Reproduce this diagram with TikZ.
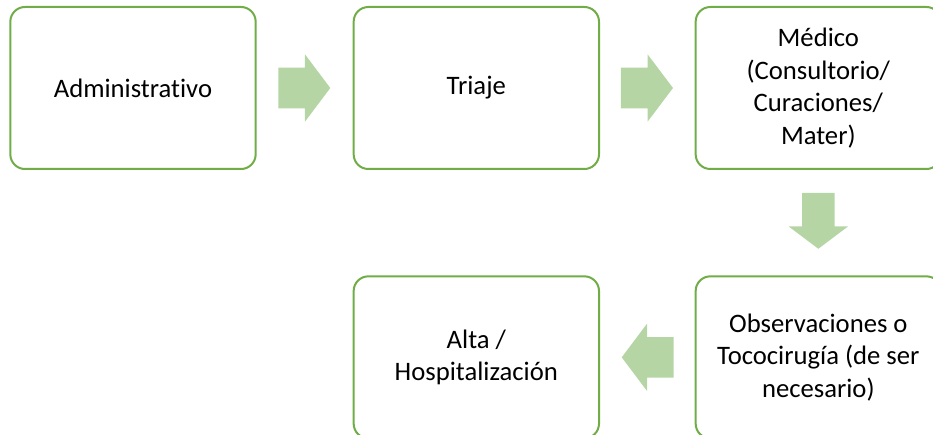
\documentclass[tikz,border=0pt]{standalone}
\usepackage{fontspec}
\setmainfont{Carlito}[Ligatures=NoCommon]
\usetikzlibrary{positioning,shapes.arrows,calc}
\definecolor{verdeborde}{HTML}{70AD47}
\definecolor{verdeflecha}{HTML}{B6D5A5}

\begin{document}
\begin{tikzpicture}[x=0.75pt,y=-0.75pt,
	caja/.style={draw=verdeborde, line width=1.5pt, rounded corners=11pt, fill=white,
		minimum width=184pt, minimum height=121.5pt, inner sep=0pt, align=center,
		font=\fontsize{20}{24.5}\selectfont},
	flecha/.style={single arrow, fill=verdeflecha, draw=none, inner xsep=0pt, inner ysep=15pt,
		minimum height=39pt, single arrow head extend=10pt,
		single arrow head indent=0pt, single arrow tip angle=106}]
	\useasboundingbox (0,0) rectangle (933,435);
	% fila superior
	\node[caja] (adm) at (133,88) {Administrativo};
	\node[caja, right=72pt of adm] (tri) {Triaje};
	\node[caja, right=71pt of tri] (med) {Médico\\(Consultorio/\\Curaciones/\\Mater)};
	% fila inferior
	\node[caja, below=79pt of med] (obs) {Observaciones o\\Tococirugía (de ser\\necesario)};
	\node[caja, left=71pt of obs] (alta) {Alta /\\Hospitalización};
	% flechas
	\node[flecha, xshift=-6pt] (f1) at ($(adm.east)!0.5!(tri.west)$) {};
	\node[flecha, xshift=-6pt] (f2) at ($(tri.east)!0.5!(med.west)$) {};
	\node[flecha, shape border rotate=270, inner xsep=12pt, inner ysep=0pt, minimum height=42pt, yshift=6pt] (f3) at ($(med.south)!0.5!(obs.north)$) {};
	\node[flecha, shape border rotate=180, xshift=6pt] (f4) at ($(obs.west)!0.5!(alta.east)$) {};
\end{tikzpicture}
\end{document}
